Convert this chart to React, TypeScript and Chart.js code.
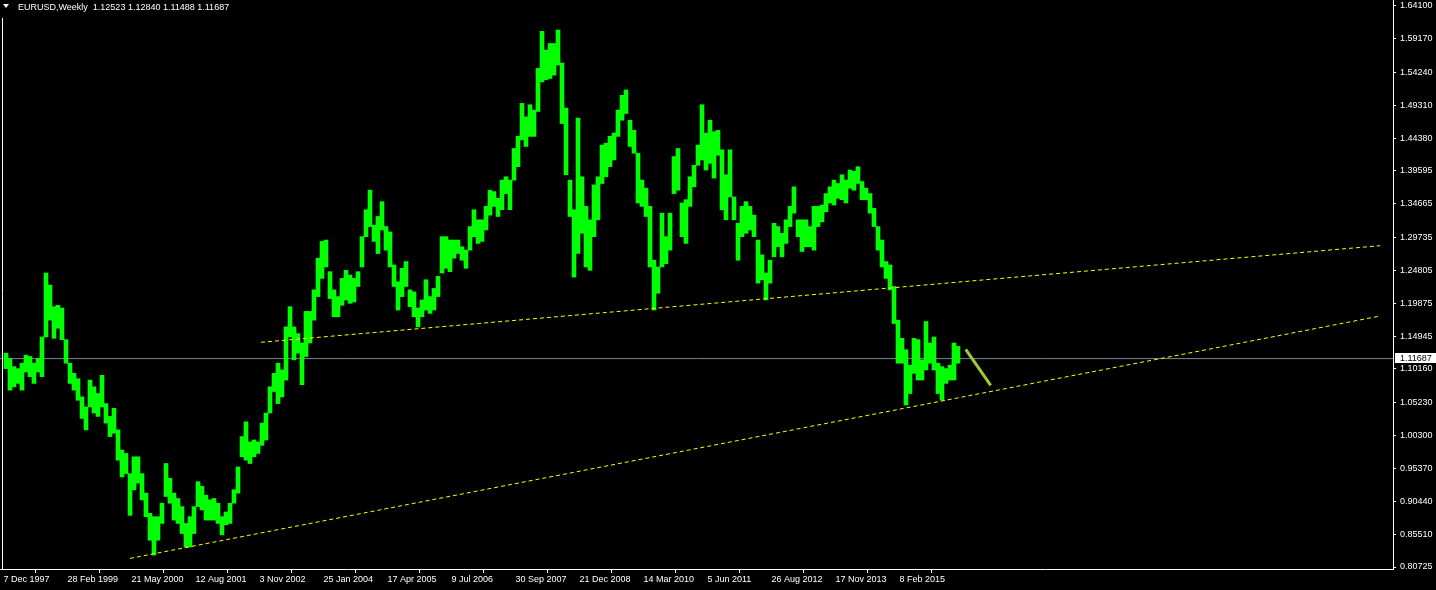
import React, { useEffect, useRef } from 'react';
import { Chart, registerables } from 'chart.js';

Chart.register(...registerables);

// ---------- data ----------
const HEADER_TEXT = 'EURUSD,Weekly  1.12523 1.12840 1.11488 1.11687';
const BID_PRICE = 1.11687;

// x axis: weeks counted from 7 Dec 1997
const xTickWeeks = [0, 64, 128, 192, 256, 320, 384, 448, 512, 576, 640, 704, 768, 832, 896];
const xTickLabels = [
  '7 Dec 1997', '28 Feb 1999', '21 May 2000', '12 Aug 2001', '3 Nov 2002',
  '25 Jan 2004', '17 Apr 2005', '9 Jul 2006', '30 Sep 2007', '21 Dec 2008',
  '14 Mar 2010', '5 Jun 2011', '26 Aug 2012', '17 Nov 2013', '8 Feb 2015',
];

const yTickValues = [
  1.641, 1.5917, 1.5424, 1.4931, 1.4438, 1.39595, 1.34665, 1.29735, 1.24805,
  1.19875, 1.14945, 1.1016, 1.0523, 1.003, 0.9537, 0.9044, 0.8551, 0.80725,
];

// price bars: one bar per 4 weeks (range covered by the weekly bars in that span)
const BAR_STEP_WEEKS = 4;
const FIRST_BAR_WEEK = 2.5;

const barHigh = [
  1.125, 1.117, 1.105, 1.102, 1.110, 1.122, 1.120, 1.110, 1.117, 1.149,
  1.244, 1.226, 1.194, 1.196, 1.192, 1.145, 1.110, 1.095, 1.087, 1.060,
  1.045, 1.085, 1.075, 1.065, 1.092, 1.050, 1.031, 1.043, 1.011, 0.981,
  0.976, 0.946, 0.971, 0.971, 0.946, 0.917, 0.887, 0.882, 0.882, 0.902,
  0.961, 0.939, 0.917, 0.909, 0.897, 0.872, 0.882, 0.897, 0.934, 0.927,
  0.914, 0.907, 0.909, 0.902, 0.882, 0.889, 0.902, 0.922, 0.956, 1.001,
  1.023, 0.993, 0.996, 0.993, 1.021, 1.036, 1.075, 1.095, 1.110, 1.100,
  1.164, 1.194, 1.164, 1.154, 1.140, 1.187, 1.187, 1.219, 1.266, 1.291,
  1.293, 1.246, 1.219, 1.209, 1.236, 1.248, 1.241, 1.236, 1.246, 1.298,
  1.338, 1.367, 1.315, 1.328, 1.350, 1.313, 1.305, 1.256, 1.231, 1.251,
  1.261, 1.219, 1.216, 1.192, 1.204, 1.234, 1.209, 1.221, 1.239, 1.298,
  1.298, 1.293, 1.293, 1.293, 1.283, 1.278, 1.313, 1.338, 1.323, 1.323,
  1.343, 1.367, 1.365, 1.355, 1.382, 1.387, 1.382, 1.429, 1.447, 1.496,
  1.476, 1.494, 1.486, 1.548, 1.603, 1.575, 1.585, 1.585, 1.605, 1.556,
  1.489, 1.382, 1.338, 1.474, 1.387, 1.343, 1.323, 1.375, 1.387, 1.434,
  1.437, 1.447, 1.452, 1.486, 1.508, 1.516, 1.471, 1.456, 1.422, 1.382,
  1.370, 1.343, 1.263, 1.253, 1.333, 1.298, 1.333, 1.417, 1.429, 1.348,
  1.353, 1.387, 1.404, 1.434, 1.494, 1.452, 1.471, 1.454, 1.456, 1.427,
  1.390, 1.427, 1.357, 1.318, 1.343, 1.350, 1.343, 1.330, 1.293, 1.271,
  1.244, 1.263, 1.318, 1.313, 1.303, 1.323, 1.343, 1.372, 1.323, 1.323,
  1.323, 1.313, 1.343, 1.343, 1.345, 1.362, 1.372, 1.382, 1.377, 1.390,
  1.382, 1.397, 1.395, 1.402, 1.380, 1.370, 1.362, 1.340, 1.313, 1.293,
  1.261, 1.256, 1.224, 1.174, 1.147, 1.130, 1.107, 1.147, 1.145, 1.115,
  1.172, 1.140, 1.149, 1.110, 1.105, 1.102, 1.107, 1.140, 1.135,
];

const barLow = [
  1.102, 1.070, 1.075, 1.080, 1.070, 1.097, 1.090, 1.080, 1.097, 1.090,
  1.149, 1.174, 1.147, 1.162, 1.145, 1.110, 1.080, 1.070, 1.055, 1.028,
  1.011, 1.045, 1.036, 1.031, 1.045, 1.021, 1.001, 1.006, 0.966, 0.941,
  0.946, 0.884, 0.922, 0.932, 0.907, 0.882, 0.847, 0.825, 0.847, 0.872,
  0.912, 0.902, 0.877, 0.872, 0.857, 0.837, 0.837, 0.857, 0.897, 0.892,
  0.877, 0.877, 0.877, 0.872, 0.855, 0.870, 0.872, 0.902, 0.917, 0.971,
  0.966, 0.961, 0.971, 0.976, 0.988, 0.996, 1.036, 1.068, 1.050, 1.060,
  1.085, 1.149, 1.115, 1.125, 1.078, 1.120, 1.140, 1.174, 1.209, 1.236,
  1.253, 1.206, 1.179, 1.179, 1.196, 1.204, 1.199, 1.201, 1.224, 1.253,
  1.298, 1.313, 1.291, 1.273, 1.308, 1.278, 1.253, 1.224, 1.189, 1.209,
  1.224, 1.194, 1.179, 1.164, 1.179, 1.189, 1.184, 1.189, 1.209, 1.244,
  1.251, 1.246, 1.266, 1.273, 1.263, 1.251, 1.278, 1.298, 1.288, 1.291,
  1.308, 1.330, 1.343, 1.328, 1.338, 1.362, 1.338, 1.382, 1.402, 1.442,
  1.432, 1.447, 1.447, 1.484, 1.528, 1.531, 1.533, 1.538, 1.553, 1.466,
  1.390, 1.328, 1.238, 1.273, 1.303, 1.253, 1.248, 1.298, 1.323, 1.377,
  1.387, 1.402, 1.412, 1.447, 1.471, 1.481, 1.432, 1.422, 1.348, 1.343,
  1.328, 1.253, 1.189, 1.214, 1.253, 1.258, 1.278, 1.362, 1.367, 1.298,
  1.288, 1.343, 1.372, 1.404, 1.412, 1.397, 1.407, 1.385, 1.419, 1.338,
  1.323, 1.357, 1.323, 1.263, 1.298, 1.303, 1.308, 1.298, 1.229, 1.234,
  1.204, 1.229, 1.268, 1.283, 1.268, 1.288, 1.313, 1.333, 1.298, 1.276,
  1.283, 1.283, 1.278, 1.313, 1.320, 1.335, 1.348, 1.345, 1.355, 1.353,
  1.348, 1.370, 1.367, 1.377, 1.353, 1.353, 1.333, 1.313, 1.278, 1.253,
  1.236, 1.219, 1.169, 1.110, 1.110, 1.048, 1.065, 1.095, 1.085, 1.085,
  1.100, 1.110, 1.100, 1.065, 1.055, 1.080, 1.085, 1.085, 1.110,
];

// drawn objects: [week, price] end points
const upperTrendWeeks = [257.5, 1376.5];
const upperTrendPrices = [1.1411, 1.2846];
const lowerTrendWeeks = [126.5, 1376.5];
const lowerTrendPrices = [0.8201, 1.1801];
const arrowWeeks = [962.2, 987.2];
const arrowPrices = [1.1306, 1.0772];

const X_MIN = -3.5;
const X_MAX = 1389.5;
const Y_MIN = 0.8043;
const Y_MAX = 1.6496;

const FONT_FAMILY = '"Liberation Sans", Arial, sans-serif';

const overlayPlugin = {
  id: 'mt4Overlay',
  afterDraw(chart: any) {
    const { ctx, chartArea } = chart;
    const yScale = chart.scales.y;
    ctx.save();
    // header
    ctx.fillStyle = '#ffffff';
    ctx.beginPath();
    ctx.moveTo(3, 4);
    ctx.lineTo(9, 4);
    ctx.lineTo(6, 8);
    ctx.closePath();
    ctx.fill();
    ctx.font = '9px ' + FONT_FAMILY;
    ctx.textBaseline = 'middle';
    ctx.textAlign = 'left';
    ctx.fillText(HEADER_TEXT, 18, 8);
    // left frame line
    ctx.strokeStyle = '#ffffff';
    ctx.lineWidth = 1;
    ctx.beginPath();
    ctx.moveTo(2.5, 18);
    ctx.lineTo(2.5, chartArea.bottom);
    ctx.stroke();
    // bid price box
    const py = Math.round(yScale.getPixelForValue(BID_PRICE)) - 1;
    ctx.fillStyle = '#ffffff';
    ctx.fillRect(chartArea.right + 2, py - 5, 60, 10);
    ctx.fillStyle = '#000000';
    ctx.fillText(BID_PRICE.toFixed(5), chartArea.right + 7, py + 0.5);
    ctx.restore();
  },
};

export default function App() {
  const canvasRef = useRef<HTMLCanvasElement | null>(null);

  useEffect(() => {
    const canvas = canvasRef.current;
    if (!canvas) return;

    const bars = barHigh.map((h, i) => ({
      x: FIRST_BAR_WEEK + i * BAR_STEP_WEEKS,
      y: [barLow[i], h],
    }));
    const toPts = (ws: number[], ps: number[]) => ws.map((w, i) => ({ x: w, y: ps[i] }));

    const chart = new Chart(canvas, {
      type: 'bar',
      data: {
        datasets: [
          {
            type: 'line',
            label: 'bid',
            data: [{ x: X_MIN, y: BID_PRICE }, { x: X_MAX, y: BID_PRICE }],
            borderColor: '#778899',
            borderWidth: 1,
            pointRadius: 0,
            order: 4,
          } as any,
          {
            type: 'bar',
            label: 'EURUSD',
            data: bars as any,
            backgroundColor: '#00ff00',
            borderWidth: 0,
            barPercentage: 1,
            categoryPercentage: 1,
            order: 3,
          } as any,
          {
            type: 'line',
            label: 'upper',
            data: toPts(upperTrendWeeks, upperTrendPrices),
            borderColor: '#ffff00',
            borderWidth: 1,
            borderDash: [4, 3],
            pointRadius: 0,
            order: 2,
          } as any,
          {
            type: 'line',
            label: 'lower',
            data: toPts(lowerTrendWeeks, lowerTrendPrices),
            borderColor: '#ffff00',
            borderWidth: 1,
            borderDash: [4, 3],
            pointRadius: 0,
            order: 1,
          } as any,
          {
            type: 'line',
            label: 'arrow',
            data: toPts(arrowWeeks, arrowPrices),
            borderColor: '#9acd32',
            borderWidth: 3,
            pointRadius: 0,
            order: 0,
          } as any,
        ],
      },
      options: {
        animation: false,
        responsive: false,
        maintainAspectRatio: false,
        layout: { padding: 0 },
        plugins: {
          legend: { display: false },
          tooltip: { enabled: false },
          title: { display: false },
        },
        scales: {
          x: {
            type: 'linear',
            position: 'bottom',
            min: X_MIN,
            max: X_MAX,
            offset: false,
            grid: {
              display: true,
              drawOnChartArea: false,
              drawTicks: true,
              tickLength: 4,
              color: '#ffffff',
              tickColor: '#ffffff',
            },
            border: { display: true, color: '#ffffff', width: 1 },
            ticks: {
              align: 'start',
              autoSkip: false,
              maxRotation: 0,
              minRotation: 0,
              padding: 1,
              color: '#ffffff',
              font: { family: FONT_FAMILY, size: 9 },
              callback: (_v: any, i: number) => xTickLabels[i],
            },
            afterBuildTicks: (scale: any) => {
              scale.ticks = xTickWeeks.map((v) => ({ value: v }));
            },
            afterFit: (scale: any) => {
              scale.height = 21;
              scale.paddingLeft = 0;
              scale.paddingRight = 0;
            },
          },
          y: {
            type: 'linear',
            position: 'right',
            min: Y_MIN,
            max: Y_MAX,
            grid: {
              display: true,
              drawOnChartArea: false,
              drawTicks: true,
              tickLength: 3,
              color: '#ffffff',
              tickColor: '#ffffff',
            },
            border: { display: true, color: '#ffffff', width: 1 },
            ticks: {
              autoSkip: false,
              padding: 4,
              color: '#ffffff',
              font: { family: FONT_FAMILY, size: 9 },
              callback: (_v: any, i: number) => yTickValues[i].toFixed(5),
            },
            afterBuildTicks: (scale: any) => {
              scale.ticks = yTickValues.map((v) => ({ value: v }));
            },
            afterFit: (scale: any) => {
              scale.width = 43;
              scale.paddingTop = 0;
              scale.paddingBottom = 0;
            },
          },
        },
      } as any,
      plugins: [overlayPlugin],
    });

    return () => {
      chart.destroy();
    };
  }, []);

  return (
    <div
      style={{
        position: 'fixed',
        left: 0,
        top: 0,
        width: 1436,
        height: 590,
        background: '#000000',
      }}
    >
      <canvas ref={canvasRef} width={1436} height={590} style={{ display: 'block' }} />
    </div>
  );
}
